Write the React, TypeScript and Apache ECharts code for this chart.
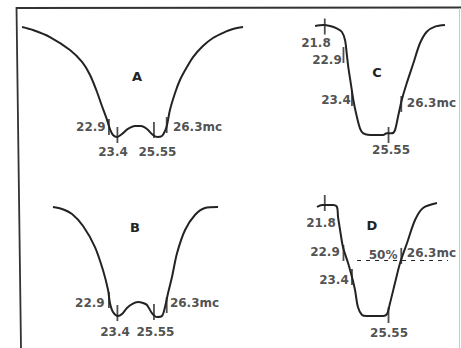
import React, { useEffect, useRef } from 'react';
import * as echarts from 'echarts';

// Response curves: x = frequency (mc), y = relative level (%), 100 = skirt top, 0 = floor
const curveA: [number, number][] = [
  [17.79, 100], [18.43, 97.3], [19.43, 90.9], [20.61, 79.1], [21.32, 68.2], [21.79, 56.4],
  [22.2, 40.9], [22.49, 28.2], [22.79, 15.5], [22.96, 7.3], [23.14, 1.8], [23.38, 0],
  [23.67, 2.7], [24.02, 7.3], [24.43, 10.0], [24.79, 10.0], [25.14, 7.3], [25.43, 2.7],
  [25.73, 0], [26.02, 0.9], [26.2, 5.5], [26.32, 10.9], [26.49, 24.5], [26.79, 40],
  [27.08, 51.8], [27.49, 63.6], [27.85, 72.7], [28.43, 82.7], [29.02, 90], [29.73, 95.5],
  [30.2, 98.2], [30.79, 100],
];
const curveB: [number, number][] = [
  [19.61, 100], [20.14, 98.2], [20.73, 93.6], [21.38, 82.7], [22.08, 63.6], [22.55, 42.7],
  [22.85, 24.5], [22.96, 12.7], [23.14, 4.5], [23.43, 0.9], [23.67, 2.7], [23.96, 8.2],
  [24.26, 11.8], [24.61, 13.6], [24.91, 12.7], [25.14, 10.9], [25.43, 3.6], [25.73, 0],
  [26.02, 0.9], [26.2, 9.1], [26.38, 21.8], [26.61, 36.4], [26.91, 58.2], [27.38, 79.1],
  [27.96, 92.7], [28.55, 99.1], [29.32, 100],
];
const curveC: [number, number][] = [
  [21.23, 99.1], [21.71, 100], [22.11, 99.1], [22.5, 97], [22.8, 93.9], [22.99, 86.4],
  [23.09, 74.3], [23.18, 62.1], [23.33, 47], [23.48, 31.8], [23.64, 19.7], [23.87, 6.1],
  [24.07, 1.5], [24.46, 0], [24.86, 0], [25.24, 0], [25.44, 1.5], [25.74, 1.5],
  [25.93, 4.5], [26.13, 18.2], [26.33, 31.8], [26.62, 47], [27.01, 65.2], [27.4, 83.4],
  [27.8, 93.9], [28.28, 98.5], [28.87, 100],
];
const curveD: [number, number][] = [
  [21.34, 98.2], [21.64, 100], [22.28, 100], [22.52, 98.2], [22.58, 89.2], [22.7, 77.5],
  [22.87, 62.2], [23.17, 47.7], [23.4, 35.1], [23.58, 23.4], [23.75, 8.1], [23.99, 0.9],
  [24.28, 0], [24.75, 0], [25.23, 0], [25.46, 1.8], [25.64, 11.7], [25.93, 29.7],
  [26.23, 47.7], [26.64, 65.8], [27.11, 86.5], [27.58, 97.3], [28.4, 101.8],
];

// Frequency markers (mc) and the level where each one crosses its curve (%)
const markFreqsAB = [22.9, 23.4, 25.55, 26.3];
const markFreqsCD = [21.8, 22.9, 23.4, 25.55, 26.3];
const markLevelsA = [9.1, 1.8, 6.4, 10.9];
const markLevelsB = [15.5, 3.6, 4.5, 10.9];
const markLevelsC = [98.6, 72.7, 33.6, 0, 28.2];
const markLevelsD = [101.8, 56.8, 35.1, 0.9, 54.1];
const freqUnit = 'mc';

// Half-power reference on curve D
const halfLevel = 50;
const halfLineFreqs = [23.7, 29.05];
const halfLabelFreq = 25.23;

const panelNames = ['A', 'B', 'C', 'D'];

const INK = '#232323';
const FONT = 'DejaVu Sans';

// Plot boxes (px) and frequency windows of the four panels
const layout = [
  { left: 17.11, top: 27, width: 229.5, height: 110, min: 17.5, max: 31, letter: [137, 76] },
  { left: 17.11, top: 207, width: 229.5, height: 110, min: 17.5, max: 31, letter: [135, 227] },
  { left: 311.17, top: 25, width: 136, height: 110, min: 21, max: 29, letter: [377, 72] },
  { left: 311.17, top: 205, width: 136, height: 111, min: 21, max: 29, letter: [372, 225] },
];

// Label offsets from each marker centre (px)
const labelOffsets: [number, number][][] = [
  [[-18, 0], [-4.4, 17], [3.5, 22], [30.8, 2]],
  [[-19, 3], [-2.4, 19], [1.5, 20], [27.8, -2]],
  [[-8.8, 16.2], [-16.5, 5], [-16, 2], [2.5, 15], [30.2, -1]],
  [[-3.8, 20], [-18.5, -1.3], [-18, 3], [0.5, 18], [30.2, -3]],
];

const labelText = {
  fontFamily: FONT,
  fontWeight: 'bold' as const,
  fontSize: 12,
  color: INK,
};

function buildOption() {
  const curves = [curveA, curveB, curveC, curveD];
  const freqs = [markFreqsAB, markFreqsAB, markFreqsCD, markFreqsCD];
  const levels = [markLevelsA, markLevelsB, markLevelsC, markLevelsD];

  const grid = layout.map((l) => ({
    left: l.left,
    top: l.top,
    width: l.width,
    height: l.height,
    containLabel: false,
    outerBoundsMode: 'none',
  }));
  const xAxis = layout.map((l, i) => ({
    type: 'value',
    gridIndex: i,
    min: l.min,
    max: l.max,
    show: false,
  }));
  const yAxis = layout.map((_, i) => ({
    type: 'value',
    gridIndex: i,
    min: 0,
    max: 100,
    show: false,
  }));

  const series: any[] = [];
  curves.forEach((curve, i) => {
    series.push({
      type: 'line',
      xAxisIndex: i,
      yAxisIndex: i,
      data: curve,
      smooth: 0.3,
      symbol: 'none',
      clip: false,
      lineStyle: { color: INK, width: 2 },
    });
    const f = freqs[i];
    series.push({
      type: 'scatter',
      xAxisIndex: i,
      yAxisIndex: i,
      clip: false,
      symbol: 'rect',
      symbolSize: [1.8, 16],
      itemStyle: { color: INK },
      data: f.map((v, k) => ({
        value: [v, levels[i][k]],
        name: String(v) + (k === f.length - 1 ? freqUnit : ''),
        label: {
          show: true,
          position: 'inside',
          offset: labelOffsets[i][k],
          formatter: '{b}',
          ...labelText,
        },
      })),
      z: 3,
    });
  });

  // 50 % reference line and its label on panel D
  series.push({
    type: 'line',
    xAxisIndex: 3,
    yAxisIndex: 3,
    data: halfLineFreqs.map((f) => [f, halfLevel]),
    symbol: 'none',
    clip: false,
    lineStyle: { color: INK, width: 1.2, type: [4, 5] },
  });
  series.push({
    type: 'scatter',
    xAxisIndex: 3,
    yAxisIndex: 3,
    clip: false,
    symbolSize: 0,
    data: [
      {
        value: [halfLabelFreq, halfLevel],
        name: `${halfLevel}%`,
        label: {
          show: true,
          position: 'inside',
          offset: [0, -5.5],
          formatter: '{b}',
          ...labelText,
        },
      },
    ],
  });

  const graphic: any[] = [
    { type: 'line', shape: { x1: 16, y1: 8, x2: 461, y2: 7.5 }, style: { stroke: '#333', lineWidth: 2 } },
    { type: 'line', shape: { x1: 16.5, y1: 7, x2: 21, y2: 348 }, style: { stroke: '#333', lineWidth: 1.8 } },
    { type: 'line', shape: { x1: 459.5, y1: 8, x2: 459.5, y2: 348 }, style: { stroke: '#c8c8c8', lineWidth: 1 } },
    ...layout.map((l, i) => ({
      type: 'text',
      x: l.letter[0],
      y: l.letter[1],
      style: {
        text: panelNames[i],
        font: `bold 13px "${FONT}"`,
        fill: INK,
        align: 'center',
        verticalAlign: 'middle',
      },
    })),
  ];

  return {
    animation: false,
    backgroundColor: '#ffffff',
    grid,
    xAxis,
    yAxis,
    series,
    graphic,
  };
}

export default function App() {
  const ref = useRef<HTMLDivElement>(null);
  useEffect(() => {
    if (!ref.current) return;
    const chart = echarts.init(ref.current, null, { renderer: 'svg' });
    chart.setOption(buildOption() as any);
    return () => chart.dispose();
  }, []);
  return (
    <div
      ref={ref}
      style={{ position: 'fixed', left: 0, top: 0, width: 461, height: 348, background: '#fff' }}
    />
  );
}
